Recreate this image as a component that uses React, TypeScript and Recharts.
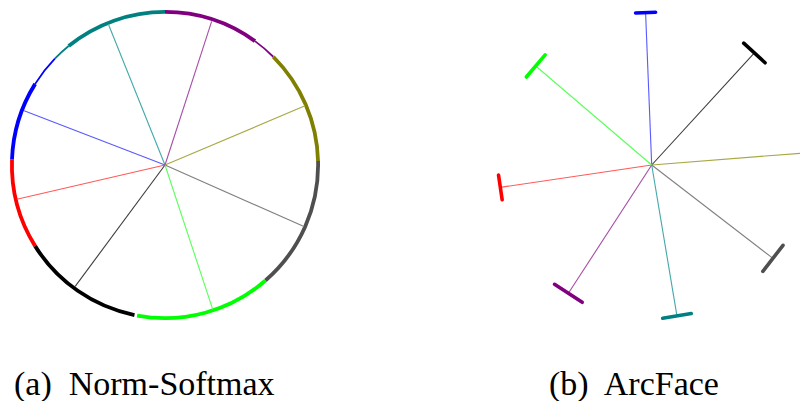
import React from 'react'
import { ScatterChart, Scatter, XAxis, YAxis, PieChart, Pie, Cell } from 'recharts'

// 8 identity classes, colours of the feature points
const classColor: Record<string, string> = {
  blue: '#0000ff', red: '#ff0000', black: '#000000', green: '#00ff00',
  gray: '#4f4f4f', olive: '#808000', purple: '#800080', teal: '#008080',
}
// class-centre (weight) lines are drawn lighter
const spokeColor: Record<string, string> = {
  blue: '#5a5aff', red: '#ff5a5a', black: '#3c3c3c', green: '#5aff5a',
  gray: '#808080', olive: '#a8a844', purple: '#a64da6', teal: '#44a8a8',
}

// (a) Norm-Softmax: weight directions (deg, ccw from +x) and lengths
const softmaxClasses = ['gray', 'olive', 'purple', 'teal', 'blue', 'red', 'black', 'green']
const softmaxAngles = [-23.9, 22.9, 72.0, 111.9, 158.9, 193.0, 233.5, -71.7]
const softmaxLengths = [152, 152, 151, 152, 151, 152, 151, 152]

// (a) features on the hypersphere, as arcs [from, to] in degrees
const ringClass = ['gray', 'olive', 'purple', 'purple', 'teal', 'teal', 'blue', 'blue', 'red', 'black', 'green']
const ringFrom = [-49, 1.5, 45, 54, 90, 129, 136, 148, 178, 212, 259.5]
const ringTo = [1.5, 45, 54, 90, 129, 136, 148, 178, 212, 258.5, 311]
const ringDense = [true, true, false, true, true, false, false, true, true, true, true]

// (b) ArcFace: weight directions, lengths and half-length of each compact cluster
const arcfaceClasses = ['blue', 'black', 'olive', 'gray', 'teal', 'purple', 'red', 'green']
const arcfaceAngles = [92.3, 47.5, 4.5, -37.6, -80.5, 237.0, 188.4, 139.5]
const arcfaceLengths = [152.5, 152, 153, 153, 153, 153, 153, 152.5]
const arcfaceSpread = [10, 14.5, 14, 16.5, 14.5, 16.5, 12.5, 14.5]

const rad = (d: number) => (d * Math.PI) / 180
const polar = (deg: number, len: number) => ({ x: len * Math.cos(rad(deg)), y: len * Math.sin(rad(deg)) })

function ringData(dense: boolean) {
  const out: { span: number; fill: string }[] = []
  let at = ringFrom[0]
  ringFrom.forEach((from, i) => {
    if (from > at) out.push({ span: from - at, fill: 'none' })
    out.push({ span: ringTo[i] - from, fill: ringDense[i] === dense ? classColor[ringClass[i]] : 'none' })
    at = ringTo[i]
  })
  if (ringFrom[0] + 360 > at) out.push({ span: ringFrom[0] + 360 - at, fill: 'none' })
  return out
}

const noDot = () => <g />

function NormSoftmax() {
  const sparse = ringData(false)
  const dense = ringData(true)
  return (
    <>
      <div style={{ position: 'absolute', left: 0, top: 0 }}>
        <PieChart width={330} height={330} margin={{ top: 0, right: 0, bottom: 0, left: 0 }}>
          <Pie data={sparse} dataKey="span" cx={165} cy={165} innerRadius={152.2} outerRadius={154}
            startAngle={ringFrom[0]} endAngle={ringFrom[0] + 360} stroke="none" isAnimationActive={false}>
            {sparse.map((d, i) => <Cell key={i} fill={d.fill} stroke="none" />)}
          </Pie>
          <Pie data={dense} dataKey="span" cx={165} cy={165} innerRadius={151.2} outerRadius={155}
            startAngle={ringFrom[0]} endAngle={ringFrom[0] + 360} stroke="none" isAnimationActive={false}>
            {dense.map((d, i) => <Cell key={i} fill={d.fill} stroke="none" />)}
          </Pie>
        </PieChart>
      </div>
      <div style={{ position: 'absolute', left: 0, top: 0 }}>
        <ScatterChart width={330} height={330} margin={{ top: 0, right: 0, bottom: 0, left: 0 }}>
          <XAxis type="number" dataKey="x" domain={[-165, 165]} allowDataOverflow hide />
          <YAxis type="number" dataKey="y" domain={[-165, 165]} allowDataOverflow hide />
          {softmaxClasses.map((c, i) => (
            <Scatter key={c} data={[{ x: 0, y: 0 }, polar(softmaxAngles[i], softmaxLengths[i])]}
              fill={spokeColor[c]} line={{ stroke: spokeColor[c], strokeWidth: 1.1 }} shape={noDot}
              isAnimationActive={false} />
          ))}
        </ScatterChart>
      </div>
    </>
  )
}

function ArcFace() {
  return (
    <div style={{ position: 'absolute', left: 480, top: 0 }}>
      <ScatterChart width={320} height={330} margin={{ top: 0, right: 0, bottom: 0, left: 0 }}>
        <XAxis type="number" dataKey="x" domain={[-171.7, 148.3]} allowDataOverflow hide />
        <YAxis type="number" dataKey="y" domain={[-165, 165]} allowDataOverflow hide />
        {arcfaceClasses.map((c, i) => (
          <Scatter key={c} data={[{ x: 0, y: 0 }, polar(arcfaceAngles[i], arcfaceLengths[i])]}
            fill={spokeColor[c]} line={{ stroke: spokeColor[c], strokeWidth: 1.1 }} shape={noDot}
            isAnimationActive={false} />
        ))}
        {arcfaceClasses.map((c, i) => {
          const tip = polar(arcfaceAngles[i], arcfaceLengths[i])
          const side = polar(arcfaceAngles[i] + 90, arcfaceSpread[i])
          return (
            <Scatter key={'cl-' + c}
              data={[{ x: tip.x - side.x, y: tip.y - side.y }, { x: tip.x + side.x, y: tip.y + side.y }]}
              fill={classColor[c]} line={{ stroke: classColor[c], strokeWidth: 3.6, strokeLinecap: 'round' }}
              shape={noDot} isAnimationActive={false} />
          )
        })}
      </ScatterChart>
    </div>
  )
}

const caption: React.CSSProperties = {
  position: 'absolute', top: 367, fontFamily: '"Liberation Serif", "DejaVu Serif", serif',
  fontSize: 34, lineHeight: 1, whiteSpace: 'pre', color: '#000',
}

export default function App() {
  return (
    <div style={{ position: 'absolute', left: 0, top: 0, width: 800, height: 401, background: '#fff', overflow: 'hidden' }}>
      <NormSoftmax />
      <ArcFace />
      <div style={{ ...caption, left: 14 }}>(a)  Norm-Softmax</div>
      <div style={{ ...caption, left: 549 }}>(b)  ArcFace</div>
    </div>
  )
}
